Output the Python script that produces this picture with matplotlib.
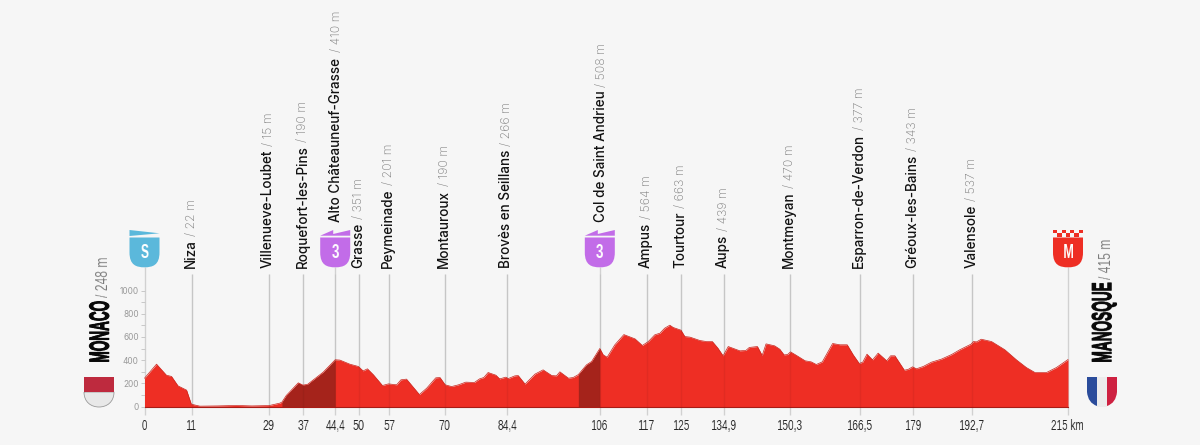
import numpy as np
import matplotlib
matplotlib.use('Agg')
import matplotlib.pyplot as plt
import matplotlib.patheffects as pe
from matplotlib.patches import Polygon, PathPatch
from matplotlib.path import Path

BG = '#f6f6f6'
RED = '#ee2e24'
DARK = '#a5231b'
PURPLE = '#c26ce8'
BLUE = '#5bb8db'
GREY_TXT = '#7c7c7c'
NARROW = ['Liberation Sans', 'DejaVu Sans']
SANS = ['Inter', 'Liberation Sans', 'DejaVu Sans']

# profile, km and metres
km = [0, 2.8, 5.1, 6.3, 7.8, 9.8, 10.9, 12.9, 17, 21.4, 25, 29, 31.5, 32, 33, 35.8, 36.9, 38,
      41.6, 44.4, 45.5, 47.8, 49.8, 50.9, 51.9, 53.3, 55.4, 56.8, 58.7, 59.7, 61, 64, 65.7,
      67.8, 68.8, 70, 71.5, 73.1, 74.8, 76.8, 78, 79, 80, 81.8, 82.7, 84.1, 84.7, 86.2, 87,
      88.6, 90.9, 92.8, 94.8, 95.9, 96.7, 98.7, 99.8, 101, 102.9, 104.1, 106, 106.8, 107.7,
      109.5, 111.6, 114.2, 115.9, 117.3, 118.8, 120, 121.1, 122.3, 123.1, 124.9, 125.8, 127,
      129.3, 130.8, 132.2, 133.5, 134.7, 135.9, 138.6, 140, 140.8, 142.7, 143.8, 144.7, 146.7,
      147.9, 148.9, 149.7, 150.4, 151.8, 153.8, 155.2, 156.4, 157.8, 160.2, 161.9, 163.6, 165,
      166.4, 167.2, 168.2, 169.5, 170.8, 172.8, 173.7, 174.7, 176.9, 177.8, 178.8, 179.7,
      181.3, 183.2, 185.5, 187.9, 189.8, 192.4, 193, 193.7, 194.8, 197.2, 200.3, 203, 205.3,
      207.3, 210, 212.3, 215]
elev = [244, 365, 270, 259, 178, 141, 20, 3, 5, 9, 5, 8, 29, 38, 95, 204, 184, 192,
        296, 403, 400, 365, 345, 307, 325, 273, 181, 195, 187, 230, 236, 103, 158,
        247, 250, 187, 172, 187, 210, 207, 238, 250, 293, 270, 238, 253, 241, 264, 267,
        193, 279, 316, 267, 264, 299, 244, 250, 275, 359, 388, 500, 445, 425,
        532, 620, 583, 526, 560, 618, 632, 675, 701, 681, 658, 603, 598,
        569, 560, 560, 503, 437, 517, 480, 483, 509, 517, 440, 540, 523,
        494, 445, 448, 471, 440, 394, 385, 362, 385, 543, 532, 532, 445,
        371, 382, 451, 402, 460, 394, 437, 437, 313, 320, 342, 325,
        345, 382, 408, 448, 489, 537, 560, 557, 580, 560, 489, 402, 336,
        293, 293, 336, 405]

# climbs drawn darker
climb_1 = (32, 44.4)
climb_2 = (101, 106)

# waypoints
way_km = [11, 29, 37, 44.4, 50, 57, 70, 84.4, 106, 117, 125, 134.9, 150.3, 166.5, 179, 192.7]
way_names = ['Niza', 'Villenueve-Loubet', 'Roquefort-les-Pins', 'Alto Châteauneuf-Grasse',
             'Grasse', 'Peymeinade', 'Montauroux', 'Brovès en Seillans', 'Col de Saint Andrieu',
             'Ampus', 'Tourtour', 'Aups', 'Montmeyan', 'Esparron-de-Verdon', 'Gréoux-les-Bains',
             'Valensole']
way_elev = ['22 m', '15 m', '190 m', '410 m', '351 m', '201 m', '190 m', '266 m', '508 m',
            '564 m', '663 m', '439 m', '470 m', '377 m', '343 m', '537 m']
x_ticks = [0, 11, 29, 37, 44.4, 50, 57, 70, 84.4, 106, 117, 125, 134.9, 150.3, 166.5, 179, 192.7, 215]
x_labels = ['0', '11', '29', '37', '44,4', '50', '57', '70', '84,4', '106', '117', '125', '134,9',
            '150,3', '166,5', '179', '192,7', '215 km']


# no condensed font is installed, so squeeze the drawn text along its direction
def squeeze(f, axis):
    def flt(img, dpi):
        n = img.shape[axis]
        m = max(1, int(round(n * f)))
        # average each group of source pixels so thin strokes survive
        edges = np.linspace(0, n, m + 1)
        cum = np.concatenate([np.zeros_like(np.take(img, [0], axis)), np.cumsum(img, axis=axis)], axis=axis)
        lo = np.floor(edges).astype(int)
        hi = np.minimum(lo + 1, n)
        frac = (edges - lo).reshape((-1, 1, 1) if axis == 0 else (1, -1, 1))
        c = np.take(cum, lo, axis) * (1 - frac) + np.take(cum, hi, axis) * frac
        out = np.diff(c, axis=axis) / (n / m)
        ox = int((n - m) / 2) if axis == 1 else 0
        return out, ox, 0
    return flt


def shield(axp, cx, top, color, w=30, bottom=267.3):
    # flat top, straight sides, rounded bottom
    hw = w / 2
    mid = top + (bottom - top) * 0.5
    verts = [(cx - hw, top), (cx + hw, top), (cx + hw, mid), (cx + hw, bottom - 2), (cx + 8, bottom),
             (cx, bottom), (cx - 8, bottom), (cx - hw, bottom - 2), (cx - hw, mid), (cx - hw, top)]
    codes = [Path.MOVETO, Path.LINETO, Path.LINETO, Path.CURVE4, Path.CURVE4, Path.CURVE4,
             Path.CURVE4, Path.CURVE4, Path.CURVE4, Path.CLOSEPOLY]
    axp.add_patch(PathPatch(Path(verts, codes), fc=color, ec='none', zorder=5))


def badge_text(axp, cx, s):
    t = axp.text(cx, 252.5, s, color='white', ha='center', va='center', fontsize=15,
                 family=NARROW, weight='bold', zorder=6)
    t.set_agg_filter(squeeze(0.6, 1))


fig = plt.figure(figsize=(12, 4.45), dpi=100, facecolor=BG)
H = 445
x0, x1, y0, y1 = 144.5, 1068, 406.5, 290.5
ax = fig.add_axes([x0 / 1200, (H - y0) / H, (x1 - x0) / 1200, (y0 - y1) / H])
ax.set_xlim(0, 215)
ax.set_ylim(0, 1000)
ax.patch.set_alpha(0)
for s in ax.spines.values():
    s.set_visible(False)

km_a = np.array(km)
elev_a = np.array(elev)
ax.fill_between(km_a, elev_a, -6, color=RED, lw=0, clip_on=False, zorder=2)
for a, b in (climb_1, climb_2):
    m = (km_a >= a) & (km_a <= b)
    ax.fill_between(km_a[m], elev_a[m], 0, color=DARK, lw=0, zorder=3)
ax.plot(km_a, elev_a, color='#c9241c', lw=0.5, zorder=4, clip_on=False)
ax.plot([0, 215], [0, 0], color='#a81c16', lw=0.8, zorder=4, clip_on=False)

# grey guide lines, only faint where they cross the profile
ax.vlines(way_km, -75, 1142, color='black', alpha=0.15, lw=1, clip_on=False, zorder=1)
ax.vlines([0, 215], -75, 1200, color='black', alpha=0.15, lw=1, clip_on=False, zorder=1)
ax.vlines([44.4, 106], 1142, 1200, color='black', alpha=0.15, lw=1, clip_on=False, zorder=1)
ax.vlines(way_km, 0, 1142, color='black', alpha=0.05, lw=1, clip_on=False, zorder=5)

ax.set_yticks(range(0, 1001, 200))
ax.set_yticks(range(100, 1000, 200), minor=True)
ax.tick_params(axis='y', which='both', length=2.6, width=0.7, color='#c8c8c8', pad=1.5,
               labelsize=6, labelcolor='#9a9a9a')
for t in ax.get_yticklabels():
    t.set_family(SANS)
ax.set_xticks(x_ticks, x_labels)
ax.tick_params(axis='x', length=0, pad=9, labelsize=11, labelcolor='#222222')
for t in ax.get_xticklabels():
    t.set_family(NARROW)
    t.set_agg_filter(squeeze(0.66, 1))

# overlay in pixel coordinates for the labels and badges
axp = fig.add_axes([0, 0, 1, 1])
axp.set_xlim(0, 1200)
axp.set_ylim(H, 0)
axp.axis('off')


def km_px(v):
    return x0 + v * (x1 - x0) / 215


def two_part(x, y, name, rest, name_kw, rest_kw, gap, scale=1.0, rest_scale=1.0):
    # name then the grey part, stacked upwards along the same baseline
    t = axp.text(x, y, name, rotation=90, rotation_mode='anchor', ha='left', va='baseline', **name_kw)
    bb = t.get_window_extent(fig.canvas.get_renderer())
    t2 = axp.text(x, y - bb.height * scale - gap, rest, rotation=90, rotation_mode='anchor', ha='left',
                  va='baseline', **rest_kw)
    if scale != 1.0:
        t.set_agg_filter(squeeze(scale, 0))
    if rest_scale != 1.0:
        t2.set_agg_filter(squeeze(rest_scale, 0))


name_kw = dict(fontsize=9.7, color='#111111', family=SANS, weight='medium')
rest_kw = dict(fontsize=8.8, color=GREY_TXT, family=SANS, weight='light')
for k, n, e in zip(way_km, way_names, way_elev):
    high = k in (44.4, 106)
    x = km_px(k) + (4.8 if high else 3.0)
    y = 222 if high else 267.5
    two_part(x, y, n, '/ ' + e, name_kw, rest_kw, 6 if k == 44.4 else 3)

# stroke makes up for the stems lost in the squeeze
big_kw = dict(fontsize=19.5, color='#0a0a0a', family=NARROW, weight='bold',
              path_effects=[pe.withStroke(linewidth=1.1, foreground='#0a0a0a')])
big_rest = dict(fontsize=12, color=GREY_TXT, family=NARROW)
two_part(108.5, 363, 'MONACO', '/ 248 m', big_kw, big_rest, 4, scale=0.5, rest_scale=0.72)
two_part(1111, 363, 'MANOSQUE', '/ 415 m', big_kw, big_rest, 4, scale=0.5, rest_scale=0.72)

# start badge
cx = km_px(0)
shield(axp, cx, 237.5, BLUE)
axp.add_patch(Polygon([(cx - 15, 230), (cx + 15, 233.3), (cx - 15, 236)], fc=BLUE, ec='none', zorder=5))
badge_text(axp, cx, 'S')

# category 3 climbs
for k in (44.4, 106):
    cx = km_px(k)
    shield(axp, cx, 237.5, PURPLE)
    axp.add_patch(Polygon([(cx - 15, 235.7), (cx - 2, 230), (cx - 2, 234), (cx + 15, 230), (cx + 15, 235.7)],
                          fc=PURPLE, ec='none', zorder=5))
    badge_text(axp, cx, '3')

# finish badge with battlements
cx = km_px(215)
shield(axp, cx, 237.5, RED)
for i in range(7):
    for j in range(2):
        if (i + j) % 2 == 0:
            bx = cx - 15 + i * 30 / 7
            by = 230 + j * 3.3
            axp.add_patch(Polygon([(bx, by), (bx + 30 / 7, by), (bx + 30 / 7, by + 3.3), (bx, by + 3.3)],
                                  fc=RED, ec='none', zorder=5))
badge_text(axp, cx, 'M')

# flags
mx = 99
m_verts = [(mx - 15, 392), (mx + 15, 392), (mx + 15, 402), (mx + 8, 407), (mx, 407), (mx - 8, 407), (mx - 15, 402), (mx - 15, 392)]
m_codes = [Path.MOVETO, Path.LINETO, Path.CURVE4, Path.CURVE4, Path.CURVE4, Path.CURVE4, Path.CURVE4, Path.CURVE4]
axp.add_patch(PathPatch(Path(m_verts, m_codes), fc='#e8e8e8', ec='#9a9a9a', lw=0.6))
axp.add_patch(Polygon([(mx - 15, 377), (mx + 15, 377), (mx + 15, 392), (mx - 15, 392)], fc='#be2a3e', ec='none'))

fx = 1102
axp.add_patch(Polygon([(fx - 5, 377), (fx + 5, 377), (fx + 5, 406.5), (fx - 5, 406.5)], fc='#ececec', ec='none'))
axp.add_patch(PathPatch(Path([(fx - 15, 377), (fx - 5, 377), (fx - 5, 406), (fx - 14, 403), (fx - 15, 392), (fx - 15, 377)],
                             [Path.MOVETO, Path.LINETO, Path.LINETO, Path.CURVE3, Path.CURVE3, Path.LINETO]),
                        fc='#2b4c9b', ec='none'))
axp.add_patch(PathPatch(Path([(fx + 15, 377), (fx + 5, 377), (fx + 5, 406), (fx + 14, 403), (fx + 15, 392), (fx + 15, 377)],
                             [Path.MOVETO, Path.LINETO, Path.LINETO, Path.CURVE3, Path.CURVE3, Path.LINETO]),
                        fc='#ce2141', ec='none'))

fig.savefig('out.png', dpi=100, facecolor=BG)
